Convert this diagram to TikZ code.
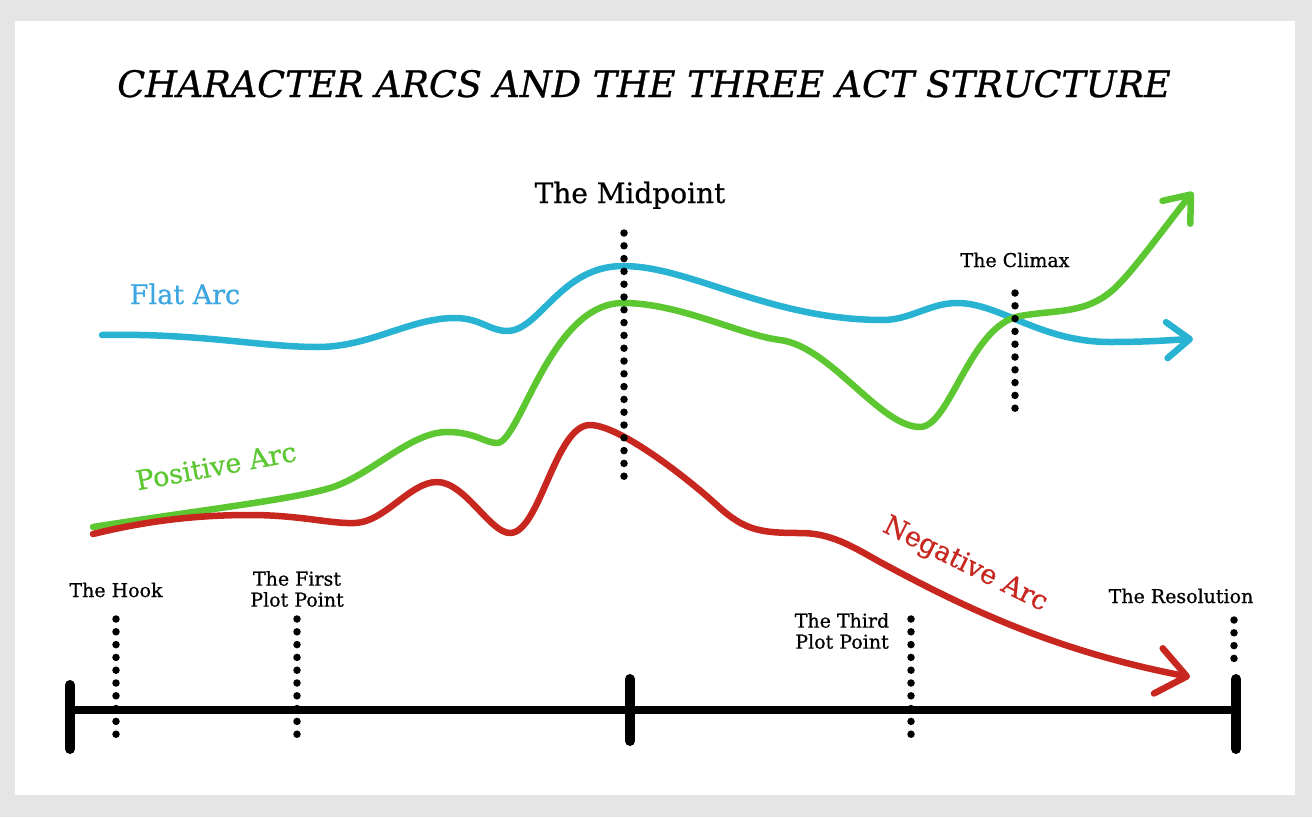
\documentclass[tikz,border=0pt]{standalone}
\usepackage{fontspec}
\setmainfont{DejaVu Serif}[FakeBold=0.7]
\usetikzlibrary{arrows.meta}
\definecolor{framegray}{HTML}{E5E5E5}
\definecolor{flatblue}{HTML}{29B3D3}
\definecolor{flattext}{HTML}{3CA6E0}
\definecolor{posgreen}{HTML}{5CC731}
\definecolor{negred}{HTML}{C8271F}
\tikzset{
  arcline/.style={line width=6.5pt, line cap=round, line join=round},
  dotline/.style={line width=7.5pt, line cap=round, dash pattern=on 0pt off 12.8pt},
  bartick/.style={line width=10pt, line cap=round},
  marker/.style={font=\fontsize{19}{21}\selectfont, align=center, inner sep=0pt},
  arclabel/.style={font=\fontsize{27}{30}\selectfont, inner sep=0pt},
}
\begin{document}
\begin{tikzpicture}[x=1pt, y=-1pt]
    \useasboundingbox (0,0) rectangle (1312,817);
    % frame
    \fill[framegray] (0,0) rectangle (1312,817);
    \fill[white] (15,21) rectangle (1295,795);

    % title
    \node[anchor=base, inner sep=0pt, font=\fontsize{36.5}{40}\selectfont\itshape] (title) at (644,97)
        {CHARACTER ARCS AND THE THREE ACT STRUCTURE};

    % flat arc
    \draw[arcline, flatblue, -{Straight Barb[length=23pt, width=36pt, round]}]
        (102,335) .. controls (200,333) and (260,347) .. (318,347)
        .. controls (370,347) and (410,318) .. (455,318)
        .. controls (480,318) and (490,331) .. (507,331)
        .. controls (540,331) and (560,266) .. (623,266)
        .. controls (690,266) and (770,320) .. (883,320)
        .. controls (910,320) and (930,303) .. (957,303)
        .. controls (1000,303) and (1040,342) .. (1110,342)
        .. controls (1150,342) and (1170,340) .. (1193,339);
    % positive arc
    \draw[arcline, posgreen, -{Straight Barb[length=23pt, width=36pt, round]}]
        (93,527) .. controls (200,510) and (290,500) .. (330,488)
        .. controls (370,476) and (410,432) .. (447,432)
        .. controls (475,432) and (485,443) .. (497,443)
        .. controls (520,443) and (550,303) .. (623,303)
        .. controls (680,303) and (740,335) .. (780,340)
        .. controls (830,346) and (880,427) .. (920,427)
        .. controls (950,427) and (970,325) .. (1020,316)
        .. controls (1060,309) and (1090,315) .. (1120,283)
        .. controls (1140,262) and (1170,220) .. (1193,192);
    % negative arc
    \draw[arcline, negred, -{Straight Barb[length=29pt, width=46pt, round]}]
        (93,534) .. controls (150,520) and (200,515) .. (250,515)
        .. controls (300,515) and (330,524) .. (355,523)
        .. controls (385,522) and (410,482) .. (437,482)
        .. controls (465,482) and (490,533) .. (510,533)
        .. controls (540,533) and (555,425) .. (590,425)
        .. controls (620,425) and (690,480) .. (720,508)
        .. controls (745,530) and (760,533) .. (800,533)
        .. controls (830,533) and (850,545) .. (880,562)
        .. controls (960,605) and (1050,650) .. (1190,677);

    % arc labels
    \node[arclabel, text=flattext, anchor=base] (flat) at (185,304) {Flat Arc};
    \node[arclabel, text=posgreen, rotate=10.5] (positive) at (216,466) {Positive Arc};
    \node[arclabel, text=negred, rotate=-26.5] (negative) at (965,565) {Negative Arc};

    % dotted markers
    \foreach \name/\x/\top/\bot in {hook/116/619/737, first/297/619/737, third/911/619/737,
        resol/1234/620/660, mid/624/233/487, climax/1015/293/411} {
        \draw[dotline] (\x,\top) coordinate (\name-top) -- (\x,\bot) coordinate (\name-bot);
    }

    % timeline
    \coordinate (t-start) at (70,710);
    \coordinate (t-mid) at (630,710);
    \coordinate (t-end) at (1236,710);
    \draw[line width=8pt] (t-start) -- (t-end);
    \draw[bartick] ([yshift=-39pt]t-start) -- ([yshift=25pt]t-start);
    \draw[bartick] ([yshift=-31pt]t-mid) -- ([yshift=31pt]t-mid);
    \draw[bartick] ([yshift=-39pt]t-end) -- ([yshift=31pt]t-end);

    % marker labels
    \node[marker, anchor=base] (hook) at (116,597) {The Hook};
    \node[marker] (first) at (297,589) {The First\\Plot Point};
    \node[marker] (third) at (842,631) {The Third\\Plot Point};
    \node[marker, anchor=base] (resol) at (1181,603) {The Resolution};
    \node[marker, anchor=base] (climax) at (1015,267) {The Climax};
    \node[arclabel, anchor=base, font=\fontsize{28}{30}\selectfont] (mid) at (630,203) {The Midpoint};
\end{tikzpicture}
\end{document}
